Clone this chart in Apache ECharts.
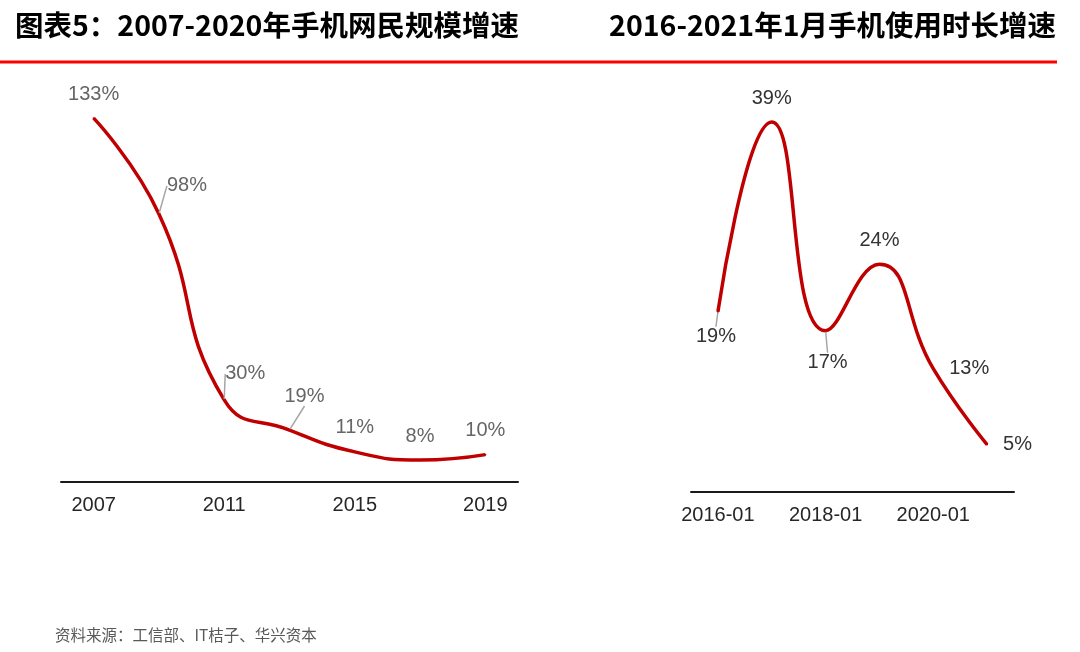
<!DOCTYPE html>
<html>
<head>
<meta charset="utf-8">
<script src="https://cdn.jsdelivr.net/npm/echarts@6/dist/echarts.min.js"></script>
<style>
html,body{margin:0;padding:0;background:#fff;}
#chart{width:1080px;height:652px;}
</style>
</head>
<body>
<div id="chart"></div>
<script>
// ---- data ----
var leftTitle = '图表5：2007-2020年手机网民规模增速';
var rightTitle = '2016-2021年1月手机使用时长增速';
var sourceText = '资料来源：工信部、IT桔子、华兴资本';

var leftCategories = ['2007', '2009', '2011', '2013', '2015', '2017', '2019'];
var leftValues = [133, 98, 30, 19, 11, 8, 10];

var rightCategories = ['2016-01', '2017-01', '2018-01', '2019-01', '2020-01', '2021-01'];
var rightValues = [19, 39, 17, 24, 13, 5];

// label placement per point (style only)
var leftLabelPos = ['top', 'top', 'top', 'top', 'top', 'top', 'top'];
var leftLabelShift = [null, [28, -4], [21, -2], [15, -10], null, null, null];
var rightLabelPos = ['bottom', 'top', 'bottom', 'top', 'right', 'right'];
var rightLabelShift = [[-2, 1], null, [2, 8], null, null, null];

var FONT = '"Liberation Sans", Arial, sans-serif';
var CJK = '"Noto Sans CJK SC", sans-serif';
var LINE_RED = '#C00000';

function buildData(values, pos, shift) {
  return values.map(function (v, i) {
    return {
      value: v,
      label: { position: pos[i], distance: pos[i] === 'right' ? 15 : 13 },
      labelLine: { show: !!shift[i] }
    };
  });
}

var chart = echarts.init(document.getElementById('chart'), null, { renderer: 'canvas' });

var option = {
  backgroundColor: '#ffffff',
  animation: false,
  title: [
    { text: leftTitle, left: 15, top: 11, padding: 0,
      textStyle: { fontFamily: CJK, fontWeight: 'bold', fontSize: 28.5, color: '#000' } },
    { text: rightTitle, right: 24, top: 11, padding: 0,
      textStyle: { fontFamily: CJK, fontWeight: 'bold', fontSize: 28.5, color: '#000' } },
    { text: sourceText, left: 55, top: 627, padding: 0,
      textStyle: { fontFamily: CJK, fontWeight: 'normal', fontSize: 15.5, color: '#595959' } }
  ],
  graphic: [
    { type: 'rect', shape: { x: 0, y: 60.5, width: 1057, height: 3 },
      style: { fill: '#FF0000' }, silent: true }
  ],
  grid: [
    { left: 61, right: 1080 - 518, top: 99, bottom: 652 - 482, containLabel: false },
    { left: 691, right: 1080 - 1014, top: 112.5, bottom: 652 - 492, containLabel: false }
  ],
  xAxis: [
    { type: 'category', gridIndex: 0, data: leftCategories, boundaryGap: true,
      axisLine: { show: true, lineStyle: { color: '#1a1a1a', width: 2 } },
      axisTick: { show: false },
      axisLabel: { interval: 1, margin: 13, fontFamily: FONT, fontSize: 20, color: '#262626' } },
    { type: 'category', gridIndex: 1, data: rightCategories, boundaryGap: true,
      axisLine: { show: true, lineStyle: { color: '#1a1a1a', width: 2 } },
      axisTick: { show: false },
      axisLabel: { interval: 1, margin: 13, fontFamily: FONT, fontSize: 20, color: '#262626' } }
  ],
  yAxis: [
    { type: 'value', gridIndex: 0, min: 0, max: 140, show: false, splitLine: { show: false } },
    { type: 'value', gridIndex: 1, min: 0, max: 40, show: false, splitLine: { show: false } }
  ],
  series: [
    {
      type: 'line', xAxisIndex: 0, yAxisIndex: 0, smooth: 0.5,
      data: buildData(leftValues, leftLabelPos, leftLabelShift),
      symbol: 'circle', symbolSize: 2, showSymbol: true,
      itemStyle: { color: LINE_RED },
      lineStyle: { color: LINE_RED, width: 3.5 },
      label: { show: true, formatter: '{c}%', fontFamily: FONT, fontSize: 20, color: '#666666' },
      labelLine: { show: false, lineStyle: { color: '#a6a6a6', width: 1.5 } },
      labelLayout: function (p) {
        var s = leftLabelShift[p.dataIndex];
        return s ? { dx: s[0], dy: s[1] } : {};
      }
    },
    {
      type: 'line', xAxisIndex: 1, yAxisIndex: 1, smooth: 0.5,
      data: buildData(rightValues, rightLabelPos, rightLabelShift),
      symbol: 'circle', symbolSize: 2, showSymbol: true,
      itemStyle: { color: LINE_RED },
      lineStyle: { color: LINE_RED, width: 3.5 },
      label: { show: true, formatter: '{c}%', fontFamily: FONT, fontSize: 20, color: '#333333' },
      labelLine: { show: false, lineStyle: { color: '#a6a6a6', width: 1.5 } },
      labelLayout: function (p) {
        var s = rightLabelShift[p.dataIndex];
        return s ? { dx: s[0], dy: s[1] } : {};
      }
    }
  ]
};
chart.setOption(option);
</script>
</body>
</html>
